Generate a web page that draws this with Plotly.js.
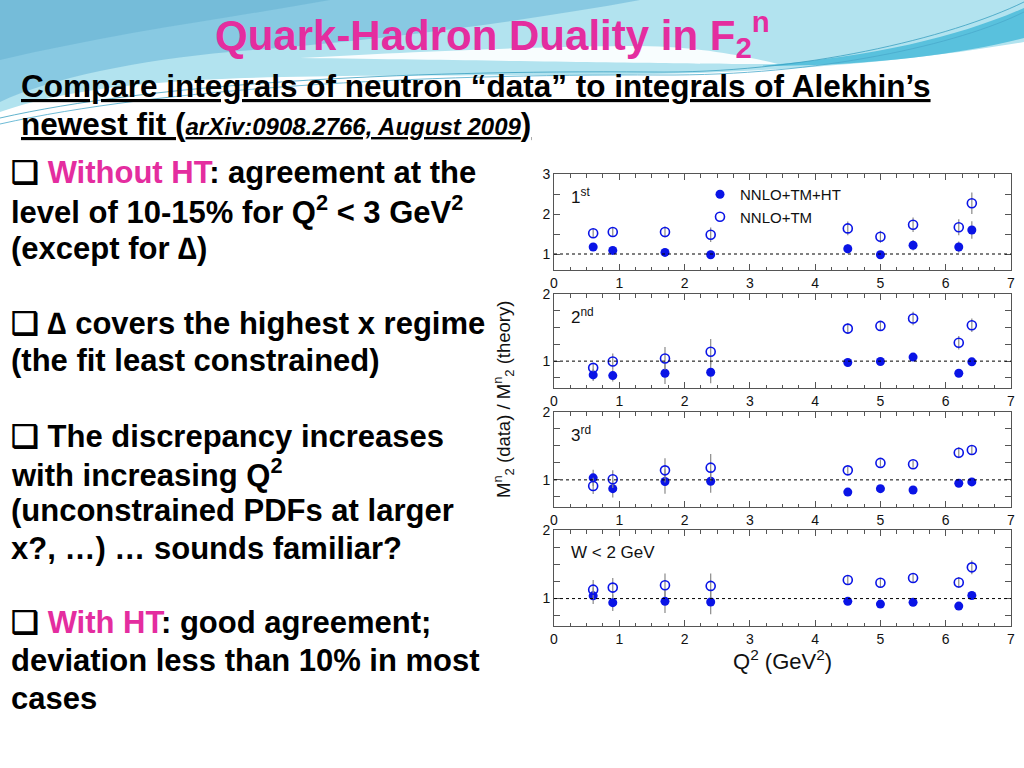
<!DOCTYPE html>
<html><head><meta charset="utf-8">
<script src="https://cdn.plot.ly/plotly-3.0.1.min.js"></script>
<style>html,body{margin:0;padding:0;background:#fff;overflow:hidden;} #chart{width:1024px;height:768px;}</style>
</head><body><div id="chart"></div>
<script>
// ---- data ----
const q2 = [0.6, 0.9, 1.7, 2.4, 4.5, 5.0, 5.5, 6.2, 6.4];
const xTicks = [0, 1, 2, 3, 4, 5, 6, 7];
const panelLabels = ['1<sup>st</sup>', '2<sup>nd</sup>', '3<sup>rd</sup>', 'W < 2 GeV'];
const seriesNames = ['NNLO+TM+HT', 'NNLO+TM'];

const ht1    = [1.175, 1.09, 1.04, 0.98, 1.13, 0.98, 1.22, 1.175, 1.60];
const ht1Err = [0.06, 0.05, 0.06, 0.10, 0.12, 0.08, 0.13, 0.14, 0.22];
const tm1    = [1.52, 1.55, 1.55, 1.48, 1.64, 1.43, 1.73, 1.67, 2.27];
const tm1Err = [0.12, 0.12, 0.14, 0.18, 0.17, 0.15, 0.18, 0.20, 0.27];

const ht2    = [0.795, 0.785, 0.82, 0.835, 0.98, 0.995, 1.06, 0.82, 0.99];
const ht2Err = [0.09, 0.09, 0.16, 0.165, 0.03, 0.03, 0.04, 0.03, 0.04];
const tm2    = [0.90, 0.995, 1.04, 1.14, 1.485, 1.525, 1.635, 1.275, 1.535];
const tm2Err = [0.06, 0.12, 0.17, 0.19, 0.08, 0.07, 0.10, 0.10, 0.10];

const ht3    = [1.03, 0.87, 0.975, 0.98, 0.82, 0.87, 0.85, 0.95, 0.97];
const ht3Err = [0.12, 0.13, 0.18, 0.17, 0.03, 0.03, 0.03, 0.03, 0.03];
const tm3    = [0.91, 1.01, 1.14, 1.18, 1.14, 1.25, 1.23, 1.40, 1.44];
const tm3Err = [0.12, 0.13, 0.18, 0.20, 0.05, 0.05, 0.05, 0.08, 0.07];

const ht4    = [1.04, 0.94, 0.96, 0.95, 0.96, 0.92, 0.945, 0.89, 1.045];
const ht4Err = [0.12, 0.12, 0.17, 0.18, 0.03, 0.03, 0.03, 0.03, 0.05];
const tm4    = [1.13, 1.16, 1.195, 1.185, 1.27, 1.23, 1.30, 1.235, 1.455];
const tm4Err = [0.14, 0.14, 0.17, 0.18, 0.07, 0.06, 0.07, 0.08, 0.10];

const htSets = [[ht1, ht1Err], [ht2, ht2Err], [ht3, ht3Err], [ht4, ht4Err]];
const tmSets = [[tm1, tm1Err], [tm2, tm2Err], [tm3, tm3Err], [tm4, tm4Err]];
const yRanges = [[0.6, 3], [0.6, 2], [0.6, 2], [0.6, 2]];
const yTickVals = [[1, 2, 3], [1, 2], [1, 2], [1, 2]];
const yMinor = [0.5, 0.25, 0.25, 0.25];

// ---- layout geometry (pixels) ----
const W = 1024, H = 768;
const px = x => x / W, py = y => 1 - y / H;
const panelPx = [[174, 270], [294, 388], [412, 507], [530, 626]];
const xDom = [px(554), px(1011)];
const FONT = '"Liberation Sans", Arial, Helvetica, sans-serif';
const BLUE = '#0a14e6';

const traces = [];
const layout = {
  width: W, height: H,
  margin: {l: 0, r: 0, t: 0, b: 0},
  paper_bgcolor: '#ffffff', plot_bgcolor: '#ffffff',
  font: {family: FONT, color: '#111', size: 14},
  showlegend: true,
  legend: {x: px(700), y: py(178), xanchor: 'left', yanchor: 'top', bgcolor: 'rgba(0,0,0,0)',
           font: {size: 15, family: FONT, color: '#111'}, tracegroupgap: 0},
  shapes: [], annotations: []
};

for (let i = 0; i < 4; i++) {
  const sfx = i === 0 ? '' : String(i + 1);
  const xa = 'x' + sfx, ya = 'y' + sfx;
  traces.push({
    x: q2, y: htSets[i][0], xaxis: xa, yaxis: ya, type: 'scatter', mode: 'markers',
    name: seriesNames[0], showlegend: i === 0,
    marker: {symbol: 'circle', size: 9, color: BLUE},
    error_y: {type: 'data', array: htSets[i][1], visible: true, color: '#8a8a8a', thickness: 1.2, width: 0}
  });
  traces.push({
    x: q2, y: tmSets[i][0], xaxis: xa, yaxis: ya, type: 'scatter', mode: 'markers',
    name: seriesNames[1], showlegend: i === 0,
    marker: {symbol: 'circle-open', size: 9, color: BLUE, line: {width: 1.6, color: BLUE}},
    error_y: {type: 'data', array: tmSets[i][1], visible: true, color: '#8a8a8a', thickness: 1.2, width: 0}
  });
  layout['xaxis' + sfx] = {
    domain: xDom, range: [0, 7], anchor: ya, tickvals: xTicks, ticks: 'inside', ticklen: 6,
    tickcolor: '#555', minor: {dtick: 0.25, tick0: 0, ticks: 'inside', ticklen: 3.5, tickcolor: '#555'},
    showline: true, mirror: 'allticks', linecolor: '#555', linewidth: 1,
    showgrid: false, zeroline: false, tickfont: {size: 14, family: FONT, color: '#111'}
  };
  layout['yaxis' + sfx] = {
    domain: [py(panelPx[i][1]), py(panelPx[i][0])], range: yRanges[i], anchor: xa,
    tickvals: yTickVals[i], ticks: 'inside', ticklen: 6, tickcolor: '#555',
    minor: {dtick: yMinor[i], tick0: 0, ticks: 'inside', ticklen: 6, tickcolor: '#555'},
    showline: true, mirror: 'allticks', linecolor: '#555', linewidth: 1,
    showgrid: false, zeroline: false, tickfont: {size: 14, family: FONT, color: '#111'}
  };
  layout.shapes.push({type: 'line', xref: xa, yref: ya, x0: 0, x1: 7, y0: 1, y1: 1,
                      line: {color: '#000', width: 1, dash: 'dot'}});
  layout.annotations.push({xref: 'paper', yref: 'paper', x: px(569), y: py(panelPx[i][0] + 22),
    xanchor: 'left', yanchor: 'middle', showarrow: false, text: panelLabels[i],
    font: {size: 17, family: FONT, color: '#111'}});
}

// axis titles
layout.annotations.push({xref: 'paper', yref: 'paper', x: px(782), y: py(660), showarrow: false,
  xanchor: 'center', yanchor: 'middle', text: 'Q<sup>2</sup> (GeV<sup>2</sup>)',
  font: {size: 22, family: FONT, color: '#111'}});
layout.annotations.push({xref: 'paper', yref: 'paper', x: px(503), y: py(400), showarrow: false,
  textangle: -90, xanchor: 'center', yanchor: 'middle',
  text: 'M<sup>n</sup><sub>2</sub> (data) / M<sup>n</sup><sub>2</sub> (theory)',
  font: {size: 18.5, family: FONT, color: '#111'}});

// ---- slide background decoration (pixel paths -> paper) ----
function pathPx(s) {
  return s.replace(/(-?\d+(?:\.\d+)?),(-?\d+(?:\.\d+)?)/g, (m, a, b) => px(+a).toFixed(5) + ',' + py(+b).toFixed(5));
}
const bg = [
  ['M0,0 L1024,0 L1024,42 C930,58 830,68 700,73 C520,78 300,72 170,82 C90,88 40,98 0,112 Z', '#b2e3ef', 1, null],
  ['M0,0 L640,0 C520,22 380,40 230,52 C140,60 50,78 0,102 Z', '#86c7e0', 0.95, null],
  ['M0,0 L330,0 C230,18 120,32 0,60 Z', '#6db6d5', 0.7, null],
  ['M300,58 C450,50 560,46 640,46 C700,47 740,55 778,64 C700,64 600,62 300,58 Z', '#ffffff', 0.9, null],
  ['M1024,8 C960,36 880,56 760,66 C880,66 970,52 1024,38 Z', '#4fbcda', 0.9, null],
  ['M0,118 C150,84 400,70 650,72 C800,74 950,38 1024,2', 'rgba(0,0,0,0)', 1, '#3a9fc0'],
  ['M0,124 C160,88 420,74 660,75 C820,76 960,44 1024,12', 'rgba(0,0,0,0)', 1, '#49aacb']
];
bg.forEach(b => layout.shapes.push({type: 'path', xref: 'paper', yref: 'paper', layer: 'below',
  path: pathPx(b[0]), fillcolor: b[1], opacity: b[2],
  line: {width: b[3] ? 0.8 : 0, color: b[3] || 'rgba(0,0,0,0)'}}));

// ---- slide text ----
const PINK = '#e42d9f';
layout.annotations.push({xref: 'paper', yref: 'paper', x: px(492), y: py(35), xanchor: 'center', yanchor: 'middle',
  showarrow: false, text: '<b>Quark-Hadron Duality in F<sub>2</sub><sup>n</sup></b>',
  font: {size: 42, family: FONT, color: PINK}});

const headLines = [
  ['<u>Compare integrals of neutron “data” to integrals of Alekhin’s</u>', 86],
  ['<u>newest fit (<i><span style="font-size:24px">arXiv:0908.2766, August 2009</span></i>)</u>', 124]
];
headLines.forEach(h => layout.annotations.push({xref: 'paper', yref: 'paper', x: px(19), y: py(h[1]),
  xanchor: 'left', yanchor: 'middle', showarrow: false, text: '<b>' + h[0] + '</b>',
  font: {size: 31.5, family: FONT, color: '#000'}}));

const bodyLines = [
  ['❑ <span style="color:' + PINK + '">Without HT</span>: agreement at the', 172],
  ['level of 10-15% for Q<sup>2</sup> < 3 GeV<sup>2</sup>', 210],
  ['(except for ∆)', 248],
  ['❑ ∆ covers the highest x regime', 323],
  ['(the fit least constrained)', 360],
  ['❑ The discrepancy increases', 436],
  ['with increasing Q<sup>2</sup>', 473],
  ['(unconstrained PDFs at larger', 510],
  ['x?, …) … sounds familiar?', 548],
  ['❑ <span style="color:' + PINK + '">With HT</span>: good agreement;', 622],
  ['deviation less than 10% in most', 660],
  ['cases', 698]
];
bodyLines.forEach(l => layout.annotations.push({xref: 'paper', yref: 'paper', x: px(9), y: py(l[1]),
  xanchor: 'left', yanchor: 'middle', showarrow: false, text: '<b>' + l[0] + '</b>',
  font: {size: 31, family: FONT, color: '#000'}}));

Plotly.newPlot('chart', traces, layout, {staticPlot: true, displayModeBar: false});
</script>
</body></html>
